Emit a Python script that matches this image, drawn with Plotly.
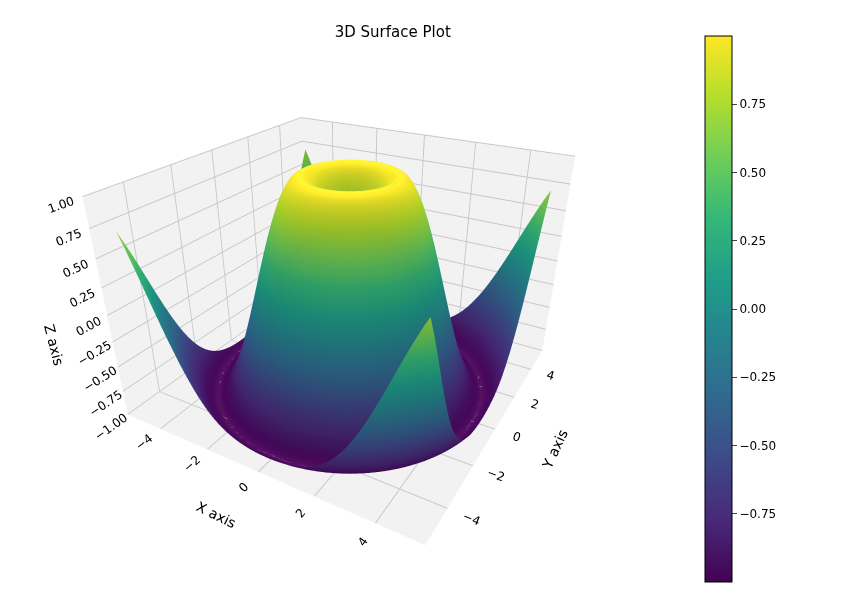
import numpy as np
import plotly.graph_objects as go

x_vals = np.linspace(-5, 5, 100)
y_vals = np.linspace(-5, 5, 100)
X, Y = np.meshgrid(x_vals, y_vals)
Z = np.sin(np.sqrt(X**2 + Y**2))

tick_xy = [-4, -2, 0, 2, 4]
tick_z = [-1.0, -0.75, -0.5, -0.25, 0.0, 0.25, 0.5, 0.75, 1.0]
cb_ticks = [-0.75, -0.5, -0.25, 0.0, 0.25, 0.5, 0.75]

fig = go.Figure(go.Surface(
    x=X, y=Y, z=Z, colorscale="Viridis",
    colorbar=dict(x=0.804, xanchor="left", y=0.5, len=1.0, ypad=0, thickness=27, tickvals=cb_ticks,
                  ticktext=[f"{t:.2f}".replace("-", "−") for t in cb_ticks],
                  outlinecolor="black", outlinewidth=1, ticks="outside",
                  tickfont=dict(size=12)),
    lighting=dict(ambient=0.85, diffuse=0.3, specular=0.05),
))

axis_common = dict(backgroundcolor="rgb(242,242,242)", showbackground=True,
                   gridcolor="rgb(200,200,200)", zeroline=False,
                   tickfont=dict(size=12))
fig.update_layout(
    width=855, height=606,
    title=dict(text="3D Surface Plot", x=0.45, y=0.97, font=dict(size=15, color="black")),
    font=dict(family="DejaVu Sans", color="black"),
    paper_bgcolor="white",
    margin=dict(l=0, r=0, t=28, b=32),
    scene=dict(
        domain=dict(x=[0.0, 0.80], y=[0.0, 1.0]),
        xaxis=dict(title="X axis", tickvals=tick_xy, range=[-5.5, 5.5], **axis_common),
        yaxis=dict(title="Y axis", tickvals=tick_xy, range=[-5.5, 5.5], **axis_common),
        zaxis=dict(title="Z axis", tickvals=tick_z, ticktext=[f"{t:.2f}".replace("-", "−") for t in tick_z],
                   range=[-1, 1], **axis_common),
        aspectmode="manual", aspectratio=dict(x=1, y=1, z=0.7),
        camera=dict(eye=dict(x=0.9, y=-1.55, z=0.92), center=dict(x=0, y=0, z=-0.08)),
    ),
)
fig.write_html("out.html")
